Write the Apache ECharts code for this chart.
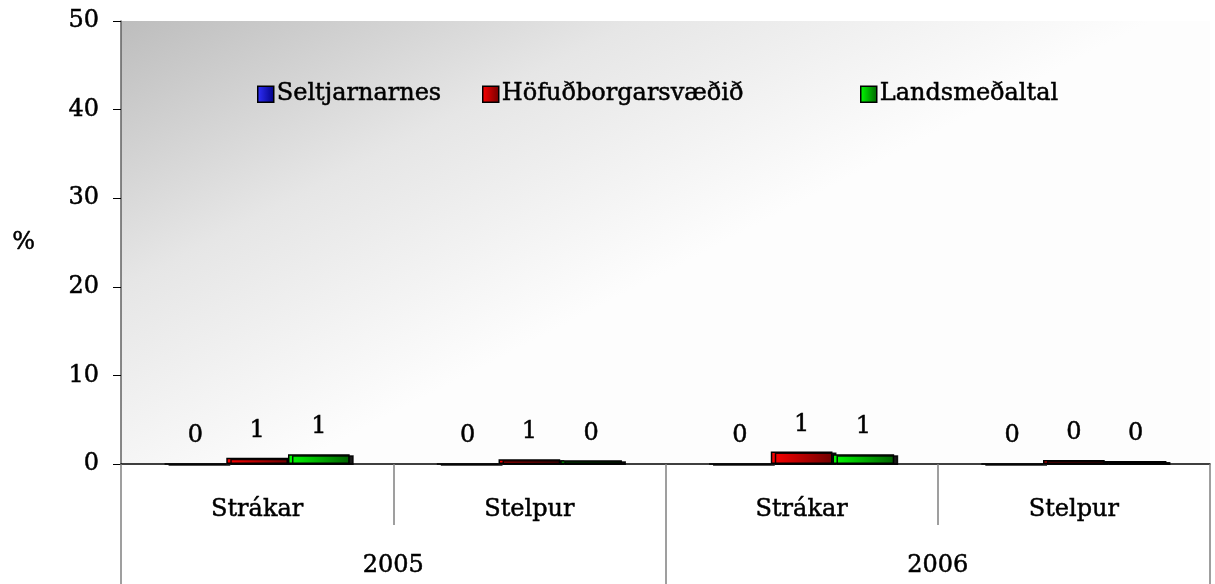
<!DOCTYPE html>
<html>
<head>
<meta charset="utf-8">
<title>Chart</title>
<script src="https://cdn.jsdelivr.net/npm/echarts@6/dist/echarts.min.js"></script>
<style>
  html, body { margin: 0; padding: 0; background: #fff; }
  #main { width: 1215px; height: 584px; }
</style>
</head>
<body>
<div id="main"></div>
<script type="text/javascript">
// data
var groups = ['Strákar', 'Stelpur', 'Strákar', 'Stelpur'];
var years = ['2005', '2006'];
var seriesNames = ['Seltjarnarnes', 'Höfuðborgarsvæðið', 'Landsmeðaltal'];
var seltjarnarnes = [0, 0, 0, 0];
var hofudborg = [0.7, 0.55, 1.4, 0.45];
var landsmedaltal = [1.1, 0.42, 1.1, 0.35];
var yTicks = { min: 0, max: 50, interval: 10 };

var font = 'DejaVu Serif';
var fs = 24;
// slightly heavier text, like the original
var txt = { fontFamily: font, fontSize: fs, color: '#000', textBorderColor: '#000', textBorderWidth: 0.5 };

var myChart = echarts.init(document.getElementById('main'));

function grad(light, dark) {
  return new echarts.graphic.LinearGradient(0, 0, 1, 0, [
    { offset: 0, color: light },
    { offset: 1, color: dark }
  ]);
}

function barSeries(name, data, light, dark) {
  return {
    name: name,
    type: 'bar',
    data: data,
    barGap: '0%',
    barCategoryGap: '32%',
    itemStyle: {
      color: grad(light, dark),
      borderColor: '#000',
      borderWidth: 1.5,
      shadowColor: 'rgba(0,0,0,0.9)',
      shadowBlur: 0,
      shadowOffsetX: 4,
      shadowOffsetY: 1
    },
    label: Object.assign({
      show: true,
      position: 'top',
      distance: 15,
      formatter: function (p) { return Math.round(p.value); }
    }, txt)
  };
}

function legendAt(name, left) {
  return {
    data: [name],
    left: left,
    top: 77,
    itemWidth: 16,
    itemHeight: 16,
    itemGap: 4,
    icon: 'rect',
    itemStyle: { borderColor: '#000', borderWidth: 1.5 },
    textStyle: Object.assign({ padding: [0, 0, 0, -2] }, txt)
  };
}

var option = {
  animation: false,
  color: ['#0000ff', '#ff0000', '#00c800'],
  legend: [
    legendAt(seriesNames[0], 252),
    legendAt(seriesNames[1], 477),
    legendAt(seriesNames[2], 855)
  ],
  grid: {
    left: 121, top: 21, right: 5, bottom: 120,
    show: true,
    borderWidth: 0,
    backgroundColor: new echarts.graphic.LinearGradient(0, 0, 0.2, 0.95, [
      { offset: 0, color: '#bdbdbd' },
      { offset: 0.5, color: '#e6e6e6' },
      { offset: 1, color: '#fdfdfd' }
    ])
  },
  xAxis: [
    {
      type: 'category',
      data: groups,
      position: 'bottom',
      axisLine: { show: true, lineStyle: { color: '#000', width: 1.5 } },
      axisTick: { show: true, length: 61, lineStyle: { color: '#808080', width: 1.5 } },
      axisLabel: Object.assign({ margin: 34 }, txt)
    },
    {
      type: 'category',
      data: years,
      position: 'bottom',
      axisLine: { show: false },
      axisTick: { show: true, length: 120, lineStyle: { color: '#808080', width: 1.5 } },
      axisLabel: Object.assign({ margin: 90 }, txt)
    }
  ],
  yAxis: {
    type: 'value',
    min: yTicks.min,
    max: yTicks.max,
    interval: yTicks.interval,
    name: '%',
    nameLocation: 'middle',
    nameRotate: 0,
    nameGap: 86,
    nameTextStyle: txt,
    axisLine: { show: true, lineStyle: { color: '#606060', width: 1.5 } },
    axisTick: { show: true, length: 8, lineStyle: { color: '#000' } },
    axisLabel: Object.assign({ margin: 22 }, txt),
    splitLine: { show: false }
  },
  series: [
    barSeries(seriesNames[0], seltjarnarnes, '#3030ff', '#000080'),
    barSeries(seriesNames[1], hofudborg, '#ff0000', '#700000'),
    barSeries(seriesNames[2], landsmedaltal, '#00ff00', '#006000')
  ]
};

myChart.setOption(option);
</script>
</body>
</html>
